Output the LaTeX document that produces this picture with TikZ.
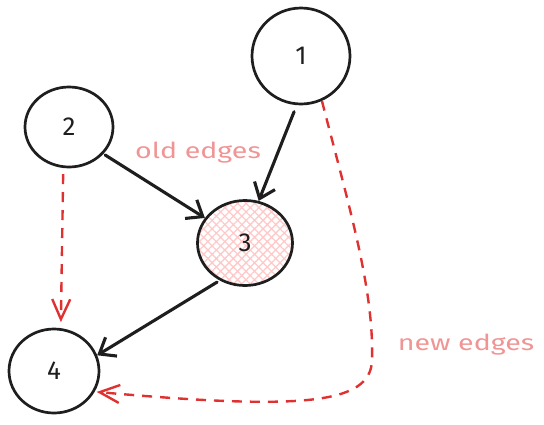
\documentclass[tikz,border=0pt]{standalone}
\usepackage{fontspec}
\setmainfont{Fira Sans}
\usetikzlibrary{arrows.meta,shapes.geometric,patterns.meta}
\definecolor{ink}{HTML}{1E1E1E}
\definecolor{newred}{HTML}{E03131}
\definecolor{labelpink}{HTML}{F09595}
\definecolor{hatchpink}{HTML}{FFC9C9}
\tikzset{
  vert/.style={ellipse, draw=ink, line width=2.7pt, font=\fontsize{26}{28}\selectfont, text=ink, inner sep=0pt},
  oldedge/.style={draw=ink, line width=3.1pt, line cap=round, -{Straight Barb[length=14pt,width=22pt,line width=3.1pt]}},
  newedge/.style={draw=newred, line width=2.4pt, dash pattern=on 10pt off 8pt, -{Straight Barb[length=20pt,width=18pt,line width=2.4pt]}},
  edgelabel/.style={text=labelpink, font=\fontsize{22}{24}\selectfont, anchor=base, inner sep=0pt},
}
\begin{document}
\begin{tikzpicture}[x=1pt,y=-1pt]
\useasboundingbox (0,0) rectangle (544,424);
\node[vert, minimum width=98pt, minimum height=96pt,
      preaction={fill=white}] (n1) at (301,56) {1};
\node[vert, minimum width=88pt, minimum height=80pt] (n2) at (69,127) {2};
\node[vert, minimum width=95pt, minimum height=85pt,
      preaction={pattern={Hatch[angle=45,distance=6pt,line width=1.3pt]}, pattern color=hatchpink}] (n3) at (245,243) {3};
\node[vert, minimum width=90pt, minimum height=84pt] (n4) at (54,371) {4};

\draw[oldedge, shorten <=7pt] (n1.265) -- (n3.72);
\draw[oldedge, shorten <=2pt] (n2.-38) -- (n3.148);
\draw[oldedge, shorten <=3pt] (n3.236) -- (n4.20);

\draw[newedge, shorten <=6pt, shorten >=6pt] (n2.262) -- (n4.81);
\draw[newedge, shorten >=2pt] (n1.-65) .. controls (350,210) and (374,290) .. (372,360)
   .. controls (371,405) and (300,410) .. (n4.-27);

\node[edgelabel] (lold) at (198,158) {\scalebox{1.3}[1]{old edges}};
\node[edgelabel] (lnew) at (466,350) {\scalebox{1.3}[1]{new edges}};
\end{tikzpicture}
\end{document}
